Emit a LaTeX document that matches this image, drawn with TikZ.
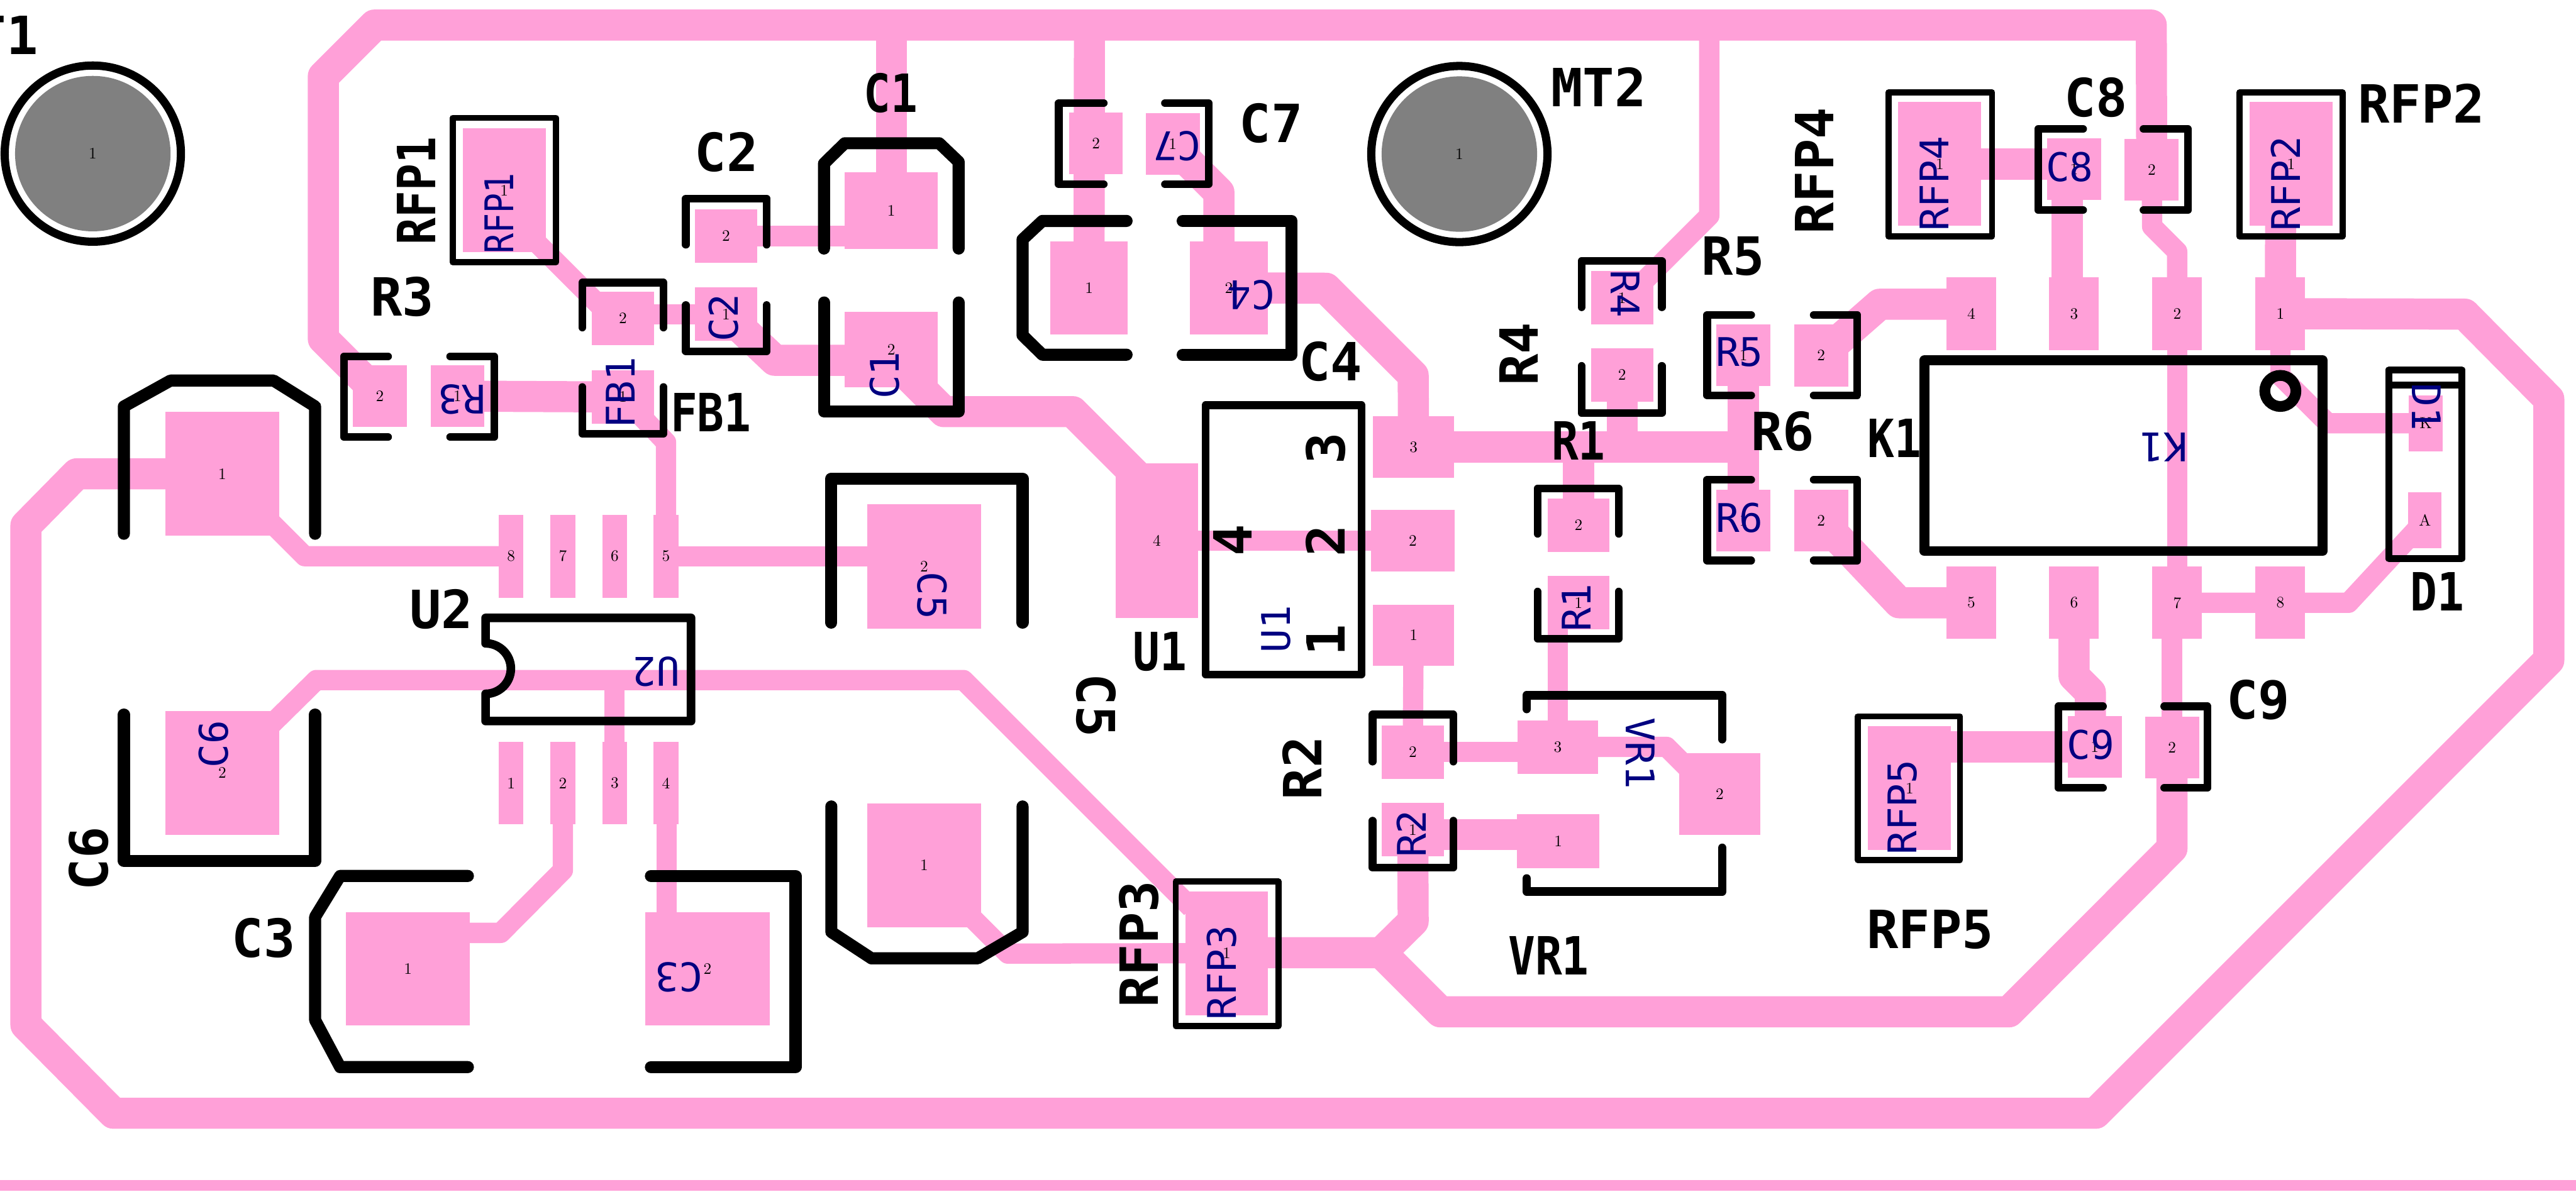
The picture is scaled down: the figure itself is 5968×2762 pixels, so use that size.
\documentclass[tikz,border=0pt]{standalone}
\usepackage{fontspec}
\newfontfamily\silkfont{DejaVu Sans Mono}
\usetikzlibrary{%
  positioning,%
  calc
}
\definecolor{padpink}{RGB}{255,160,216}
\definecolor{refnavy}{RGB}{0,0,128}
\pgfdeclarelayer{copper}
\pgfsetlayers{copper,main}

\begin{document}
\begin{tikzpicture}
[x=0.01cm, y=-0.01cm,
pad/.style 2 args={rectangle, fill=padpink, inner sep=0pt, minimum width=#1*0.01cm, minimum height=#2*0.01cm, font=\fontsize{10.5}{11}\selectfont},
wide/.style={draw=padpink, line width=0.72cm, line join=round},
thin/.style={draw=padpink, line width=0.47cm, line join=round},
silk/.style={draw=black, line width=0.18cm, line join=round, line cap=round},
silkb/.style={draw=black, line width=0.28cm, line join=round, line cap=round},
silkf/.style={draw=black, line width=0.14cm, line join=round, line cap=round},
refdes/.style={inner sep=0pt, text=black, font=\silkfont\bfseries\fontsize{34.7}{40}\selectfont},
fabdes/.style={inner sep=0pt, text=refnavy, font=\silkfont\fontsize{26}{30}\selectfont},
narrow/.style={xscale=0.85},
mthole/.style={circle, fill=gray, inner sep=0pt, minimum size=3.6cm, font=\fontsize{10.5}{11}\selectfont}]

\useasboundingbox (0,0) rectangle (5968,2762);

\fill[padpink] (0,2735) rectangle (5968,2759);

% mounting holes
\node[mthole] (mt1) at (215,356) {1};
\node[mthole] (mt2) at (3381,357) {1};
\draw[draw=black, line width=0.19cm] (mt1) circle (2.04cm);
\draw[draw=black, line width=0.19cm] (mt2) circle (2.04cm);

% pads
\foreach \n/\p/\t in {1/1184/1, 2/1304/2, 3/1424/3, 4/1543/4} {
  \node[pad={57}{191}] (u2p\n) at (\p,1815) {\t};
}
\foreach \n/\p/\t in {8/1184/8, 7/1304/7, 6/1424/6, 5/1543/5} {
  \node[pad={57}{192}] (u2p\n) at (\p,1289) {\t};
}
\foreach \n/\p in {4/4567, 3/4805, 2/5044, 1/5283} {
  \node[pad={115}{168}] (k1p\n) at (\p,727) {\n};
}
\foreach \n/\p in {5/4567, 6/4805, 7/5044, 8/5283} {
  \node[pad={115}{168}] (k1p\n) at (\p,1397) {\n};
}
\foreach \c/\x/\y in {rfp1/1168/441, rfp2/5308/380, rfp3/2842/2209, rfp4/4494/380, rfp5/4424/1827} {
  \node[pad={192}{287}] (\c p1) at (\x,\y) {1};
}
\foreach \c/\xa/\ya/\xb/\yb in {%
  r3/1060/918/880/918,
  c7/2717/334/2539/332,
  c8/4805/392/4985/394,
  c9/4853/1731/5032/1732,
  r5/4039/823/4219/824,
  r6/4039/1206/4219/1206} {
  \node[pad={125}{143}] (\c p1) at (\xa,\ya) {1};
  \node[pad={125}{143}] (\c p2) at (\xb,\yb) {2};
}
\foreach \c/\xa/\ya/\xb/\yb in {%
  c2/1682/728/1682/547,
  fb1/1443/920/1443/738,
  r1/3657/1397/3657/1217,
  r2/3273/1923/3273/1743,
  r4/3758/690/3758/869} {
  \node[pad={144}{124}] (\c p1) at (\xa,\ya) {1};
  \node[pad={144}{124}] (\c p2) at (\xb,\yb) {2};
}
\node[pad={216}{177}] (c1p1) at (2065,488) {1};
\node[pad={216}{174}] (c1p2) at (2065,810) {2};
\node[pad={179}{216}] (c4p1) at (2523,667) {1};
\node[pad={181}{216}] (c4p2) at (2847,667) {2};
\node[pad={264}{287}] (c6p1) at (515,1098) {1};
\node[pad={264}{287}] (c6p2) at (515,1791) {2};
\node[pad={264}{287}] (c5p1) at (2141,2005) {1};
\node[pad={264}{288}] (c5p2) at (2141,1313) {2};
\node[pad={288}{263}] (c3p1) at (945,2245) {1};
\node[pad={288}{263}] (c3p2) at (1639,2245) {2};
\node[pad={191}{359}] (u1p4) at (2680,1253) {4};
\node[pad={188}{143}] (u1p3) at (3275,1036) {3};
\node[pad={193}{144}] (u1p2) at (3273,1253) {2};
\node[pad={188}{142}] (u1p1) at (3275,1472) {1};
\node[pad={186}{124}] (vr1p3) at (3609,1731) {3};
\node[pad={187}{189}] (vr1p2) at (3984,1840) {2};
\node[pad={190}{125}] (vr1p1) at (3610,1950) {1};
\node[pad={79}{130}] (d1k) at (5620,981) {K};
\node[pad={77}{130}] (d1a) at (5618,1206) {A};

% tracks
\begin{pgfonlayer}{copper}
\draw[wide] (860,896) -- (749,785) -- (749,177) -- (868,58) -- (4984,58) -- (c8p2.center);
\draw[wide] (c6p1.center) -- (178,1098) -- (60,1218) -- (60,2375) -- (263,2580) -- (4855,2580) -- (5905,1530) -- (5905,925) -- (5710,728) -- (k1p1.center);
\draw[wide] (c9p2.center) -- (5032,1966) -- (4654,2345) -- (3337,2345) -- (3200,2208) -- (rfp3p1.center |- 0,2208);
\draw[wide] (r2p1.center) -- (3274,2135) -- (3200,2208);
\draw[wide] (r3p1.center) -- (fb1p1.center);
\draw[wide] (c2p1.center) -- (1795,835) -- (2065,835);
\draw[wide] (2090,857) -- (2187,954) -- (2485,954) -- (2640,1109);
\draw[wide] (c1p1.center) -- (2065,58);
\draw[wide] (c4p1.center) -- (2524,58);
\draw[wide] (2717,339) -- (2824,446) -- (2824,667);
\draw[wide] (c4p2.center) -- (3072,668) -- (3274,870) -- (u1p3.center);
\draw[wide] (u1p3.center) -- (4040,1036);
\draw[wide] (r5p1.center) -- (r6p1.center);
\draw[wide] (r4p2.center) -- (3758,1036);
\draw[wide] (r1p2.center) -- (3657,1036);
\draw[wide] (r2p1.center |- 0,1934) -- (3610,1934);
\draw[wide] (4567,705) -- (4355,705) -- (r5p2.center);
\draw[wide] (r6p2.center) -- (4400,1397) -- (k1p5.center);
\draw[wide] (rfp4p1.center) -- (4805,380);
\draw[wide] (4789,392) -- (4789,727);
\draw[wide] (5284,380) -- (k1p1.center);
\draw[wide] (k1p6.center) -- (4805,1567) -- (4843,1605) -- (4843,1731);
\draw[wide] (c9p1.center) -- (rfp5p1.center |- c9p1.center);
\draw[thin] (c8p2.center) -- (4986,525) -- (5044,583) -- (k1p2.center);
\draw[thin] (k1p2.center) -- (k1p7.center);
\draw[thin] (k1p7.center) -- (k1p8.center) -- (5441,1397) -- (d1a.center);
\draw[thin] (c9p2.center |- k1p7.center) -- (c9p2.center);
\draw[thin] (c6p1.center) -- (706,1289) -- (u2p8.center);
\draw[thin] (u2p5.center) -- (c5p2.center |- u2p5.center);
\draw[thin] (u2p5.center) -- (1543,1025) -- (fb1p1.center);
\draw[thin] (1168,487) -- (1400,719);
\draw[thin] (fb1p2.center |- c2p1.center) -- (c2p1.center);
\draw[thin] (c2p2.center) -- (c1p1.center |- c2p2.center);
\draw[thin] (u1p4.center) -- (u1p2.center);
\draw[thin] (3960,58) -- (3960,500) -- (3800,660);
\draw[thin] (3609,1397) -- (vr1p3.center);
\draw[thin] (u1p1.center) -- (r2p2.center);
\draw[thin] (r2p2.center) -- (vr1p3.center |- r2p2.center);
\draw[thin] (vr1p3.center) -- (3861,1731) -- (3950,1820);
\draw[thin] (c6p2.center) -- (733,1576) -- (2232,1576) -- (2760,2104);
\draw[thin] (u2p3.center |- 0,1576) -- (u2p3.center);
\draw[thin] (u2p2.center) -- (1304,2017) -- (1160,2162) -- (c3p1.center |- 0,2162);
\draw[thin] (1544,1815) -- (1544,2245);
\draw[thin] (2250,2125) -- (2335,2210) -- (rfp3p1.center);
\draw[thin] (k1p1.center) -- (5283,871) -- (5393,981) -- (d1k.center);
\end{pgfonlayer}

% silkscreen outlines
\foreach \xa/\xb/\ya/\yb/\yc/\yd in {%
  1589/1776/567/460/707/814,
  1349/1537/759/655/897/1005,
  3664/3850/712/605/848/957,
  3562/3750/1237/1132/1371/1480,
  3180/3367/1765/1656/1902/2011} {
  \draw[silk] (\xa,\ya) -- (\xa,\yb) -- (\xb,\yb) -- (\xb,\ya);
  \draw[silk] (\xa,\yc) -- (\xa,\yd) -- (\xb,\yd) -- (\xb,\yc);
}
\foreach \xa/\xb/\xc/\xd/\ya/\yb in {%
  797/899/1043/1145/826/1013,
  2453/2557/2699/2800/239/427,
  4722/4826/4966/5069/299/487,
  4769/4872/5014/5114/1637/1826,
  3955/4057/4202/4303/730/916,
  3955/4057/4202/4303/1112/1299} {
  \draw[silk] (\xb,\ya) -- (\xa,\ya) -- (\xa,\yb) -- (\xb,\yb);
  \draw[silk] (\xc,\ya) -- (\xd,\ya) -- (\xd,\yb) -- (\xc,\yb);
}
\foreach \xa/\xb/\ya/\yb in {%
  1049/1288/273/608,
  4375/4615/214/548,
  5188/5427/214/548,
  2724/2962/2043/2378,
  4304/4541/1660/1993} {
  \draw[silkf] (\xa,\ya) rectangle (\xb,\yb);
}

\draw[silkb] (287,1237) -- (287,942) -- (395,882) -- (634,882) -- (730,942) -- (730,1237);
\draw[silkb] (287,1656) -- (287,1995) -- (730,1995) -- (730,1656);
\draw[silkb] (1926,1443) -- (1926,1109) -- (2369,1109) -- (2369,1443);
\draw[silkb] (1926,1869) -- (1926,2160) -- (2019,2221) -- (2265,2221) -- (2369,2160) -- (2369,1869);
\draw[silkb] (1084,2030) -- (788,2030) -- (730,2125) -- (730,2364) -- (788,2473) -- (1084,2473);
\draw[silkb] (1508,2030) -- (1843,2030) -- (1843,2473) -- (1508,2473);
\draw[silkb] (1909,576) -- (1909,379) -- (1957,332) -- (2176,332) -- (2221,375) -- (2221,576);
\draw[silkb] (1909,701) -- (1909,954) -- (2221,954) -- (2221,701);
\draw[silkb] (2610,512) -- (2415,512) -- (2369,555) -- (2369,777) -- (2415,822) -- (2610,822);
\draw[silkb] (2740,512) -- (2992,512) -- (2992,822) -- (2740,822);

\draw[silk] (2793,939) rectangle (3154,1563);
\draw[draw=black, line width=0.23cm, line join=round] (4458,835) rectangle (5381,1277);
\draw[draw=black, line width=0.25cm] (5283,906) circle (0.36cm);
\draw[draw=black, line width=0.2cm, line join=round, line cap=round] (1125,1491) -- (1125,1432) -- (1601,1432) -- (1601,1671) -- (1125,1671) -- (1125,1608) arc[start angle=-90, end angle=90, radius=0.585cm];
\draw[silk, line width=0.2cm] (3537,1643) -- (3537,1611) -- (3990,1611) -- (3990,1713);
\draw[silk, line width=0.2cm] (3537,2036) -- (3537,2066) -- (3990,2066) -- (3990,1965);
\draw[draw=black, line width=0.16cm, line join=round] (5535,857) rectangle (5703,1295);
\draw[draw=black, line width=0.16cm] (5535,893) -- (5703,893);

% reference designators
\node[refdes] (mt1ref) at (-22,82) {MT1};
\node[refdes] (mt2ref) at (3704,201) {MT2};
\node[refdes, narrow] (c1ref) at (2064,215) {C1};
\node[refdes] (c2ref) at (1683,353) {C2};
\node[refdes] (c3ref) at (611,2174) {C3};
\node[refdes] (c4ref) at (3083,838) {C4};
\node[refdes] (c7ref) at (2945,285) {C7};
\node[refdes] (c8ref) at (4856,226) {C8};
\node[refdes] (c9ref) at (5232,1622) {C9};
\node[refdes, narrow] (r1ref) at (3657,1021) {R1};
\node[refdes] (r3ref) at (932,688) {R3};
\node[refdes] (r5ref) at (4015,594) {R5};
\node[refdes] (r6ref) at (4130,999) {R6};
\node[refdes, narrow] (k1ref) at (4389,1015) {K1};
\node[refdes, narrow] (d1ref) at (5647,1371) {D1};
\node[refdes, narrow] (u1ref) at (2687,1510) {U1};
\node[refdes] (u2ref) at (1022,1412) {U2};
\node[refdes, narrow] (fb1ref) at (1647,956) {FB1};
\node[refdes, narrow] (vr1ref) at (3588,2214) {VR1};
\node[refdes] (rfp2ref) at (5610,240) {RFP2};
\node[refdes] (rfp5ref) at (4472,2154) {RFP5};
\node[refdes, rotate=90, narrow] (rfp1ref) at (964,442) {RFP1};
\node[refdes, rotate=90] (rfp3ref) at (2638,2188) {RFP3};
\node[refdes, rotate=90] (rfp4ref) at (4203,396) {RFP4};
\node[refdes, rotate=90] (r4ref) at (3518,821) {R4};
\node[refdes, rotate=90] (r2ref) at (3016,1780) {R2};
\node[refdes, rotate=90] (c6ref) at (205,1990) {C6};
\node[refdes, rotate=-90] (c5ref) at (2540,1635) {C5};

% package pin marks
\foreach \t/\y in {3/1039, 2/1254, 1/1483} {
  \node[refdes, rotate=90] (u1mark\t) at (3071,\y) {\t};
}
\node[refdes, rotate=90] (u1mark4) at (2855,1252) {4};

% fabrication designators
\node[fabdes, rotate=90, narrow] (rfp1fab) at (1156,495) {RFP1};
\node[fabdes, rotate=90] (rfp2fab) at (5295,426) {RFP2};
\node[fabdes, rotate=90] (rfp3fab) at (2830,2254) {RFP3};
\node[fabdes, rotate=90] (rfp4fab) at (4481,426) {RFP4};
\node[fabdes, rotate=90] (rfp5fab) at (4408,1871) {RFP5};
\node[fabdes, rotate=90] (c1fab) at (2050,870) {C1};
\node[fabdes, rotate=90] (c2fab) at (1676,737) {C2};
\node[fabdes, rotate=90] (c6fab) at (495,1724) {C6};
\node[fabdes, rotate=90] (r1fab) at (3652,1408) {R1};
\node[fabdes, rotate=90] (r2fab) at (3270,1932) {R2};
\node[fabdes, rotate=90] (fb1fab) at (1438,910) {FB1};
\node[fabdes, rotate=90] (u1fab) at (2957,1458) {U1};
\node[fabdes, rotate=180] (r3fab) at (1070,925) {R3};
\node[fabdes, rotate=180] (c7fab) at (2727,339) {C7};
\node[fabdes, rotate=180] (c4fab) at (2899,684) {C4};
\node[fabdes, rotate=180] (c3fab) at (1573,2264) {C3};
\node[fabdes, rotate=180] (u2fab) at (1521,1556) {U2};
\node[fabdes, rotate=180] (k1fab) at (5013,1037) {K1};
\node[fabdes, rotate=-90] (c5fab) at (2160,1380) {C5};
\node[fabdes, rotate=-90] (r4fab) at (3765,681) {R4};
\node[fabdes, rotate=-90] (vr1fab) at (3800,1746) {VR1};
\node[fabdes, rotate=-90] (d1fab) at (5622,943) {D1};
\node[fabdes] (r5fab) at (4030,816) {R5};
\node[fabdes] (r6fab) at (4030,1200) {R6};
\node[fabdes] (c8fab) at (4795,387) {C8};
\node[fabdes] (c9fab) at (4844,1726) {C9};
\end{tikzpicture}
\end{document}
